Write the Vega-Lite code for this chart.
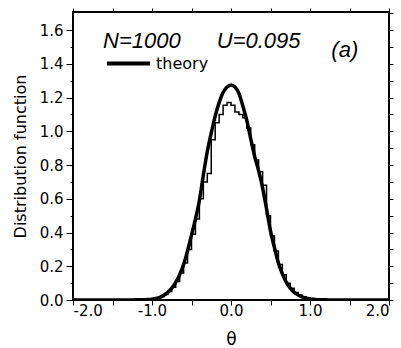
{
  "$schema": "https://vega.github.io/schema/vega-lite/v6.json",
  "width": 316,
  "height": 288,
  "autosize": "none",
  "padding": {"left": 73, "top": 12, "right": 12, "bottom": 48},
  "background": "white",
  "config": {
    "view": {"stroke": "black", "strokeWidth": 2},
    "legend": {"orient": "none", "legendX": 32, "legendY": 28, "padding": 0, "symbolType": "stroke", "symbolSize": 1849, "symbolStrokeWidth": 4, "labelFont": "DejaVu Sans", "labelFontSize": 16, "labelColor": "black", "labelOffset": 4, "title": null}
  },
  "datasets": {
    "theory": [
      {"theta": -2.0, "f": 0}, {"theta": -1.5, "f": 0}, {"theta": -1.3, "f": 0.0005}, {"theta": -1.2, "f": 0.001},
      {"theta": -1.1, "f": 0.002}, {"theta": -1.05, "f": 0.003}, {"theta": -1.0, "f": 0.005}, {"theta": -0.95, "f": 0.009},
      {"theta": -0.9, "f": 0.016}, {"theta": -0.85, "f": 0.028}, {"theta": -0.8, "f": 0.045}, {"theta": -0.75, "f": 0.07},
      {"theta": -0.7, "f": 0.105}, {"theta": -0.65, "f": 0.15}, {"theta": -0.6, "f": 0.21}, {"theta": -0.55, "f": 0.29},
      {"theta": -0.5, "f": 0.385}, {"theta": -0.45, "f": 0.48}, {"theta": -0.4, "f": 0.59}, {"theta": -0.35, "f": 0.74},
      {"theta": -0.3, "f": 0.88}, {"theta": -0.25, "f": 0.99}, {"theta": -0.2, "f": 1.09}, {"theta": -0.15, "f": 1.17},
      {"theta": -0.1, "f": 1.23}, {"theta": -0.05, "f": 1.262}, {"theta": 0.0, "f": 1.274}, {"theta": 0.05, "f": 1.262},
      {"theta": 0.1, "f": 1.225}, {"theta": 0.15, "f": 1.15}, {"theta": 0.2, "f": 1.065}, {"theta": 0.25, "f": 0.955},
      {"theta": 0.3, "f": 0.85}, {"theta": 0.35, "f": 0.765}, {"theta": 0.4, "f": 0.665}, {"theta": 0.45, "f": 0.54},
      {"theta": 0.5, "f": 0.41}, {"theta": 0.55, "f": 0.31}, {"theta": 0.6, "f": 0.22}, {"theta": 0.65, "f": 0.155},
      {"theta": 0.7, "f": 0.105}, {"theta": 0.75, "f": 0.07}, {"theta": 0.8, "f": 0.045}, {"theta": 0.85, "f": 0.03},
      {"theta": 0.9, "f": 0.018}, {"theta": 0.95, "f": 0.01}, {"theta": 1.0, "f": 0.006}, {"theta": 1.05, "f": 0.004},
      {"theta": 1.1, "f": 0.002}, {"theta": 1.2, "f": 0.001}, {"theta": 1.3, "f": 0.0005}, {"theta": 1.5, "f": 0},
      {"theta": 2.0, "f": 0}
    ],
    "hist": [
      {"theta": -2.0, "f": 0}, {"theta": -1.2, "f": 0.004}, {"theta": -1.15, "f": 0.004}, {"theta": -1.1, "f": 0.004},
      {"theta": -1.05, "f": 0.004}, {"theta": -1.0, "f": 0.008}, {"theta": -0.95, "f": 0.012}, {"theta": -0.9, "f": 0.02},
      {"theta": -0.85, "f": 0.032}, {"theta": -0.8, "f": 0.05}, {"theta": -0.75, "f": 0.075}, {"theta": -0.7, "f": 0.11},
      {"theta": -0.65, "f": 0.16}, {"theta": -0.6, "f": 0.22}, {"theta": -0.55, "f": 0.3}, {"theta": -0.5, "f": 0.39},
      {"theta": -0.45, "f": 0.48}, {"theta": -0.4, "f": 0.6}, {"theta": -0.35, "f": 0.7}, {"theta": -0.3, "f": 0.75},
      {"theta": -0.25, "f": 0.95}, {"theta": -0.2, "f": 1.05}, {"theta": -0.15, "f": 1.1}, {"theta": -0.1, "f": 1.155},
      {"theta": -0.05, "f": 1.17}, {"theta": 0.0, "f": 1.155}, {"theta": 0.05, "f": 1.115}, {"theta": 0.1, "f": 1.1},
      {"theta": 0.15, "f": 1.08}, {"theta": 0.2, "f": 1.02}, {"theta": 0.25, "f": 0.92}, {"theta": 0.3, "f": 0.83},
      {"theta": 0.35, "f": 0.76}, {"theta": 0.4, "f": 0.68}, {"theta": 0.45, "f": 0.5}, {"theta": 0.5, "f": 0.38},
      {"theta": 0.55, "f": 0.29}, {"theta": 0.6, "f": 0.21}, {"theta": 0.65, "f": 0.15}, {"theta": 0.7, "f": 0.1},
      {"theta": 0.75, "f": 0.07}, {"theta": 0.8, "f": 0.045}, {"theta": 0.85, "f": 0.03}, {"theta": 0.9, "f": 0.02},
      {"theta": 0.95, "f": 0.012}, {"theta": 1.0, "f": 0.008}, {"theta": 1.05, "f": 0.004}, {"theta": 1.1, "f": 0.004},
      {"theta": 1.15, "f": 0.004}, {"theta": 1.2, "f": 0}, {"theta": 2.0, "f": 0}
    ],
    "labels": [
      {"theta": -1.62, "f": 1.493, "label": "N=1000"},
      {"theta": -0.18, "f": 1.493, "label": "U=0.095"},
      {"theta": 1.27, "f": 1.44, "label": "(a)"}
    ]
  },
  "layer": [
    {
      "data": {"name": "theory"},
      "mark": {"type": "line", "interpolate": "monotone", "strokeWidth": 3.5, "clip": true},
      "encoding": {
        "x": {"field": "theta", "type": "quantitative", "scale": {"domain": [-2, 2], "nice": false},
          "axis": {"orient": "top", "values": [-2, -1.5, -1, -0.5, 0, 0.5, 1, 1.5, 2], "labels": false, "tickSize": 4, "tickColor": "black", "domain": false, "grid": false, "title": null}},
        "y": {"field": "f", "type": "quantitative", "scale": {"domain": [0, 1.707], "nice": false},
          "axis": {"orient": "right", "values": [0, 0.1, 0.2, 0.3, 0.4, 0.5, 0.6, 0.7, 0.8, 0.9, 1.0, 1.1, 1.2, 1.3, 1.4, 1.5, 1.6, 1.7], "labels": false, "tickSize": 4, "tickColor": "black", "domain": false, "grid": false, "title": null}},
        "color": {"datum": "theory", "type": "nominal", "scale": {"range": ["black"]}}
      }
    },
    {
      "data": {"name": "hist"},
      "mark": {"type": "line", "interpolate": "step-after", "strokeWidth": 1.5, "color": "black", "clip": true},
      "encoding": {
        "x": {"field": "theta", "type": "quantitative",
          "axis": {"orient": "bottom", "values": [-2, -1.5, -1, -0.5, 0, 0.5, 1, 1.5, 2],
            "labelExpr": "datum.value % 1 == 0 ? replace(format(datum.value, '.1f'), '\u2212', '-') : ''",
            "labelOverlap": false, "labelFont": "DejaVu Sans", "labelFontSize": 15, "labelColor": "black", "labelPadding": -2,
            "tickSize": 5, "tickColor": "black", "domain": false, "grid": false,
            "title": "θ", "titleFont": "DejaVu Sans", "titleFontSize": 17, "titleFontWeight": "normal", "titleColor": "black", "titlePadding": 13}},
        "y": {"field": "f", "type": "quantitative",
          "axis": {"orient": "left", "values": [0, 0.1, 0.2, 0.3, 0.4, 0.5, 0.6, 0.7, 0.8, 0.9, 1.0, 1.1, 1.2, 1.3, 1.4, 1.5, 1.6],
            "labelExpr": "round(datum.value * 10) % 2 == 0 ? format(datum.value, '.1f') : ''",
            "labelOverlap": false, "labelFont": "DejaVu Sans", "labelFontSize": 15, "labelColor": "black", "labelPadding": 3,
            "tickSize": {"condition": {"test": "round(datum.value * 10) % 2 == 0", "value": 7}, "value": 3},
            "tickColor": "black", "domain": false, "grid": false,
            "title": "Distribution function", "titleFont": "DejaVu Sans", "titleFontSize": 16, "titleFontWeight": "normal", "titleColor": "black", "titlePadding": 11}}
      }
    },
    {
      "data": {"name": "labels"},
      "mark": {"type": "text", "align": "left", "baseline": "alphabetic", "font": "Liberation Sans", "fontStyle": "italic", "fontSize": 22, "color": "black"},
      "encoding": {
        "x": {"field": "theta", "type": "quantitative", "axis": null},
        "y": {"field": "f", "type": "quantitative", "axis": null},
        "text": {"field": "label"}
      }
    }
  ],
  "resolve": {"axis": {"x": "independent", "y": "independent"}}
}
